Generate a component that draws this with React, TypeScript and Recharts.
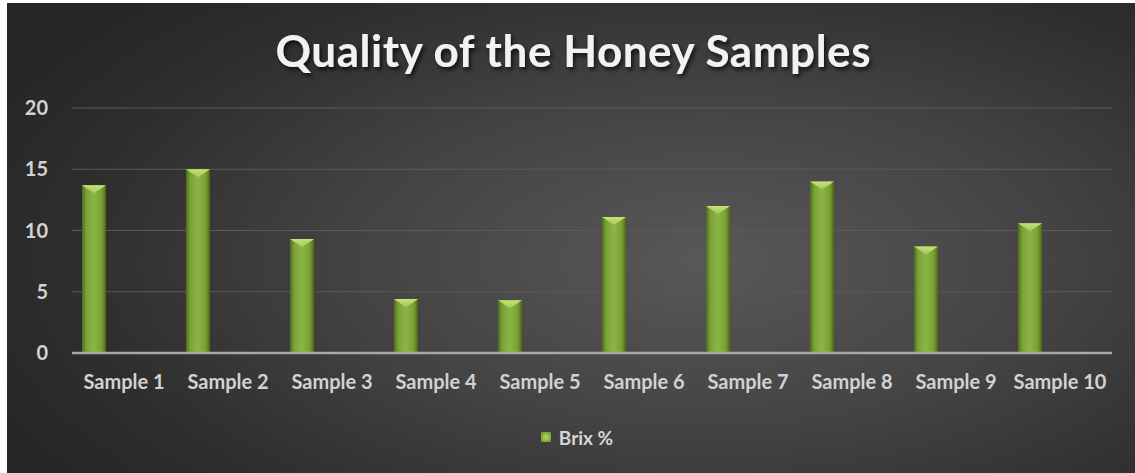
import React from 'react';
import { BarChart, Bar, XAxis, YAxis, CartesianGrid, Legend } from 'recharts';

// Brix readings per honey sample
const samples = [
  'Sample 1', 'Sample 2', 'Sample 3', 'Sample 4', 'Sample 5',
  'Sample 6', 'Sample 7', 'Sample 8', 'Sample 9', 'Sample 10'
];
const brix = [13.7, 15.0, 9.3, 4.4, 4.3, 11.1, 12.0, 14.0, 8.7, 10.6];
const yTicks = [0, 5, 10, 15, 20];

const data = samples.map((name, i) => ({ name, brix: brix[i] }));

const FONT = 'Lato, "Open Sans", sans-serif';
// columns sit on the left side of each category slot
const BAR_SHIFT = -30;

const BevelBar = (props: any) => {
  const { x, y, width, height } = props;
  if (!height || height <= 0) return null;
  const bx = x + BAR_SHIFT;
  const cap = Math.min(8, height / 2);
  return (
    <g>
      <rect x={bx} y={y} width={width} height={height} fill="url(#barBody)" />
      <polygon
        points={`${bx},${y} ${bx + width},${y} ${bx + width / 2},${y + cap}`}
        fill="url(#barCap)"
      />
    </g>
  );
};

const LegendContent = () => (
  <div
    style={{
      display: 'flex',
      justifyContent: 'center',
      alignItems: 'center',
      height: 24,
      paddingLeft: 20,
      fontFamily: FONT,
      fontWeight: 700,
      fontSize: 19,
      color: '#d6d6d6'
    }}
  >
    <span
      style={{
        display: 'inline-block',
        width: 10,
        height: 10,
        marginRight: 8,
        background: 'radial-gradient(circle, #b5d86a 0%, #86b03c 60%, #5d7e26 100%)'
      }}
    />
    Brix %
  </div>
);

const App = () => {
  return (
    <div
      style={{
        position: 'absolute',
        left: 7,
        top: 3,
        width: 1128,
        height: 470,
        background:
          'radial-gradient(ellipse 70% 80% at 62% 55%, #585858 0%, #434343 45%, #2e2e2e 80%, #262626 100%)'
      }}
    >
      <BarChart
        width={1128}
        height={470}
        data={data}
        margin={{ top: 105, right: 23, left: 15, bottom: 24 }}
      >
        <defs>
          <linearGradient id="barBody" x1="0" y1="0" x2="1" y2="0">
            <stop offset="0%" stopColor="#4f6d1e" />
            <stop offset="18%" stopColor="#7ba236" />
            <stop offset="50%" stopColor="#8cb644" />
            <stop offset="82%" stopColor="#7aa034" />
            <stop offset="100%" stopColor="#4a651b" />
          </linearGradient>
          <linearGradient id="barCap" x1="0" y1="0" x2="0" y2="1">
            <stop offset="0%" stopColor="#c4e27a" />
            <stop offset="100%" stopColor="#a2c957" />
          </linearGradient>
          <filter id="titleShadow" x="-5%" y="-20%" width="110%" height="150%">
            <feDropShadow dx="2" dy="3" stdDeviation="2" floodColor="#000" floodOpacity="0.7" />
          </filter>
        </defs>
        <text
          x={566}
          y={64}
          textAnchor="middle"
          textLength={595}
          lengthAdjust="spacing"
          fill="#f2f2f2"
          filter="url(#titleShadow)"
          style={{ fontFamily: FONT, fontWeight: 700, fontSize: 44 }}
        >
          Quality of the Honey Samples
        </text>
        <CartesianGrid vertical={false} stroke="#5a5a5a" strokeWidth={1} />
        <XAxis
          dataKey="name"
          interval={0}
          height={72}
          tickLine={false}
          tickSize={0}
          tickMargin={22}
          axisLine={{ stroke: '#a8a8a8', strokeWidth: 2.5 }}
          tick={{ fill: '#d2d2d2', fontSize: 20, fontWeight: 700, fontFamily: FONT }}
        />
        <YAxis
          domain={[0, 20]}
          ticks={yTicks}
          width={50}
          axisLine={false}
          tickLine={false}
          tickSize={0}
          tickMargin={24}
          tick={{ fill: '#d2d2d2', fontSize: 20, fontWeight: 700, fontFamily: FONT }}
        />
        <Legend verticalAlign="bottom" content={<LegendContent />} />
        <Bar
          dataKey="brix"
          name="Brix %"
          barSize={24}
          shape={<BevelBar />}
          isAnimationActive={false}
        />
      </BarChart>
    </div>
  );
};

export default App;
